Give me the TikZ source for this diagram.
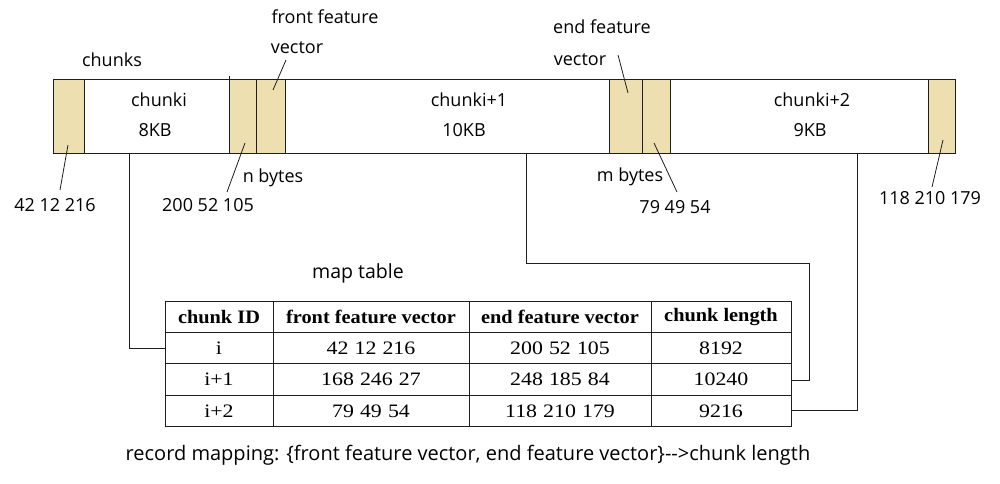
\documentclass[tikz,border=0pt]{standalone}
\usepackage{fontspec}
\setmainfont{Liberation Serif}
\setsansfont{Open Sans}
\usetikzlibrary{calc}
\definecolor{tan}{RGB}{238,223,176}
\definecolor{ln}{RGB}{30,30,30}
\newcommand{\cellfmt}[1]{\scalebox{1.15}[1]{\spaceskip=0.28em\relax #1}}
\newcommand{\headfmt}[1]{\scalebox{1.07}[1]{#1}}
\tikzset{
  lbl/.style={font=\sffamily\fontsize{18}{20}\selectfont, inner sep=0pt, text=black},
  cell/.style={font=\rmfamily\fontsize{19}{21}\selectfont, inner sep=0pt},
  hcell/.style={font=\rmfamily\bfseries\fontsize{19}{21}\selectfont, inner sep=0pt},
  wire/.style={draw=ln, line width=0.9pt},
  lead/.style={draw=ln, line width=0.8pt},
}
\begin{document}
\begin{tikzpicture}[x=1pt,y=-1pt]
\useasboundingbox (0,0) rectangle (1000,483);
% main bar
\node[draw=ln, line width=0.9pt, minimum width=902pt, minimum height=74pt, inner sep=0pt, anchor=north west] (bar) at (53,79) {};
\fill[tan] (53,79) rectangle (84,153);
\fill[tan] (229,79) rectangle (285,153);
\fill[tan] (609,79) rectangle (670,153);
\fill[tan] (928,79) rectangle (955,153);
\draw[ln, line width=0.9pt] (53,79) rectangle (955,153);
\foreach \xx in {84,229,256,285,609,642,670,928} \draw[ln, line width=0.9pt] (\xx,79) -- (\xx,153);
\draw[ln, line width=0.9pt] (229,76) -- (229,79);
% texts in bar
\node[lbl] (c1) at (159,100) {chunki};
\node[lbl] (s1) at (155,130) {8KB};
\node[lbl] (c2) at (469,100) {chunki+1};
\node[lbl] (s2) at (464,130) {10KB};
\node[lbl] (c3) at (812,100) {chunki+2};
\node[lbl] (s3) at (810,130) {9KB};
% labels above
\node[lbl] (chunks) at (112,60) {chunks};
\node[lbl] (ff1) at (325,17) {front feature};
\node[lbl] (ff2) at (297,48) {vector};
\node[lbl] (ef1) at (602,27) {end feature};
\node[lbl] (ef2) at (580,60) {vector};
% labels below
\node[lbl] (v1) at (55,205) {42 12 216};
\node[lbl] (nb) at (273,178) {n bytes};
\node[lbl] (v2) at (208,205) {200 52 105};
\node[lbl] (mb) at (630,177) {m bytes};
\node[lbl] (v3) at (675,207) {79 49 54};
\node[lbl] (v4) at (930,198) {118 210 179};
% leaders
\coordinate (p1) at (68,145); \coordinate (q1) at (60,190);
\coordinate (p2) at (245,143); \coordinate (q2) at (227,192);
\coordinate (p3) at (286,60); \coordinate (q3) at (273,90);
\coordinate (p4) at (618,55); \coordinate (q4) at (628,93);
\coordinate (p5) at (654,143); \coordinate (q5) at (677,192);
\coordinate (p6) at (943,140); \coordinate (q6) at (932,187);
\foreach \i in {1,...,6} \draw[lead] (p\i) -- (q\i);
% table
\node[font=\sffamily\fontsize{19.5}{21}\selectfont, inner sep=0pt] (mt) at (358,273) {map table};
\coordinate (tl) at (165,301);
\coordinate (br) at (791,426);
\draw[ln, line width=0.9pt] (tl) rectangle (br);
\foreach \yy in {332,363,395} \draw[ln, line width=0.9pt] (165,\yy) -- (791,\yy);
\foreach \xx in {273,469,651} \draw[ln, line width=0.9pt] (\xx,301) -- (\xx,426);
\node[hcell] (h1) at (219,317) {\headfmt{chunk ID}};
\node[hcell] (h2) at (371,317) {\headfmt{front feature vector}};
\node[hcell] (h3) at (560,317) {\headfmt{end feature vector}};
\node[hcell] (h4) at (721,317) {\headfmt{chunk length}};
\node[cell] (r11) at (219,348) {\cellfmt{i}};
\node[cell] (r12) at (371,348) {\cellfmt{42 12 216}};
\node[cell] (r13) at (560,348) {\cellfmt{200 52 105}};
\node[cell] (r14) at (721,348) {\cellfmt{8192}};
\node[cell] (r21) at (219,379) {\cellfmt{i+1}};
\node[cell] (r22) at (371,379) {\cellfmt{168 246 27}};
\node[cell] (r23) at (560,379) {\cellfmt{248 185 84}};
\node[cell] (r24) at (721,379) {\cellfmt{10240}};
\node[cell] (r31) at (219,411) {\cellfmt{i+2}};
\node[cell] (r32) at (371,411) {\cellfmt{79 49 54}};
\node[cell] (r33) at (560,411) {\cellfmt{118 210 179}};
\node[cell] (r34) at (721,411) {\cellfmt{9216}};
% connectors
\draw[wire] (129,153) -- (129,348) -- (165,348);
\draw[wire] (526,153) -- (526,263) -- (809,263) -- (809,380) -- (791,380);
\draw[wire] (857,153) -- (857,410) -- (791,410);
% bottom text
\node[inner sep=0pt] (rec) at (468,455) {\sffamily\fontsize{20}{22}\selectfont record mapping: \{front feature vector, end feature vector\}-{}->chunk length};
\end{tikzpicture}
\end{document}
